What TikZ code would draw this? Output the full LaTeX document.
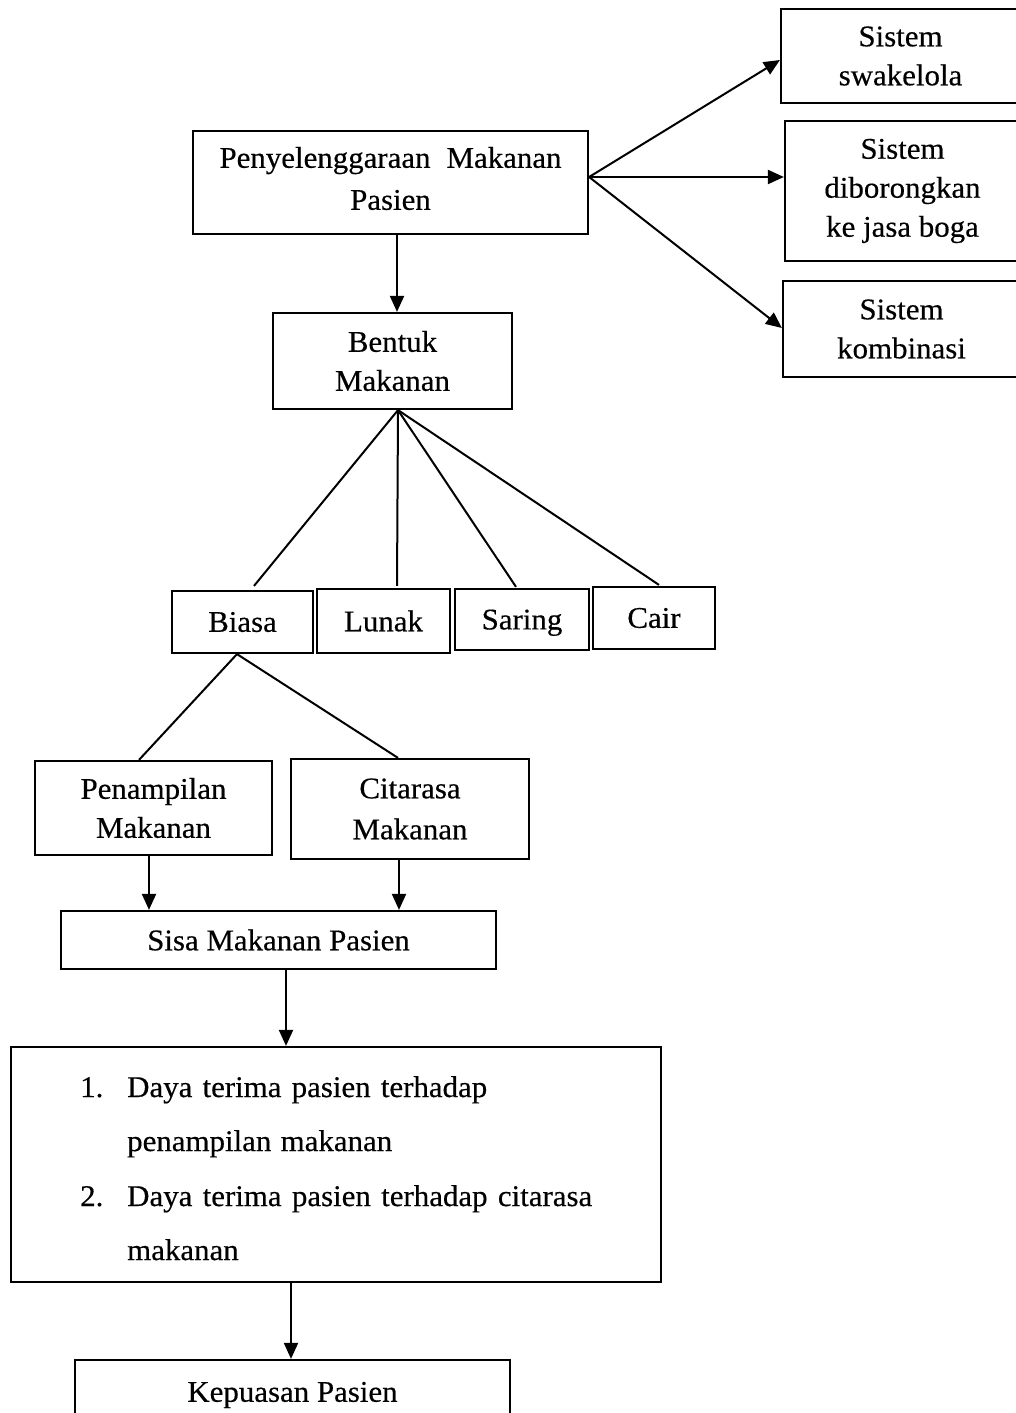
\documentclass[tikz,border=0pt]{standalone}
\usepackage{fontspec}
\setmainfont[FakeStretch=1.03,FakeBold=0.4]{Liberation Serif}
\usetikzlibrary{arrows.meta}
\begin{document}
\begin{tikzpicture}[x=1pt,y=-1pt,
  box/.style={draw,line width=2.2pt,inner sep=0pt,align=center,font=\fontsize{30}{39}\selectfont},
  conn/.style={line width=2pt},
  arr/.style={line width=2pt,-{Triangle[length=16pt,width=14pt]}},
  txt/.style={inner sep=0pt,anchor=base west,font=\fontsize{30}{36}\selectfont}]
\useasboundingbox (0,0) rectangle (1016,1413);
\fill[white] (0,0) rectangle (1016,1413);
\clip (0,0) rectangle (1016,1413);

% right column
\node[box,minimum width=239pt,minimum height=94pt] (swak) at (900.5,56) {Sistem\\swakelola};
\node[box,minimum width=235pt,minimum height=140pt] (dib) at (902.5,191) {Sistem\\diborongkan\\ke jasa boga};
\node[box,minimum width=237pt,minimum height=96pt] (komb) at (901.5,329) {Sistem\\kombinasi};

% main column
\node[box,minimum width=395pt,minimum height=103pt,font=\fontsize{30}{42}\selectfont] (peny) at (390.5,182.5)
  {\makebox[342pt][s]{Penyelenggaraan Makanan}\\Pasien\vspace{8pt}};
\node[box,minimum width=239pt,minimum height=96pt] (bentuk) at (392.5,361) {Bentuk\\Makanan};

\node[box,minimum width=141pt,minimum height=62pt] (biasa) at (242.5,622) {Biasa};
\node[box,minimum width=133pt,minimum height=64pt] (lunak) at (383.5,621) {Lunak};
\node[box,minimum width=134pt,minimum height=61pt,text depth=0pt] (saring) at (522,619.5) {Saring};
\node[box,minimum width=122pt,minimum height=62pt] (cair) at (654,618) {Cair};

\node[box,minimum width=237pt,minimum height=94pt] (pen) at (153.5,808) {Penampilan\\Makanan};
\node[box,minimum width=238pt,minimum height=100pt,font=\fontsize{30}{41}\selectfont] (cit) at (410,809) {Citarasa\\Makanan};

\node[box,minimum width=435pt,minimum height=58pt] (sisa) at (278.5,940) {Sisa Makanan Pasien};

\node[box,minimum width=650pt,minimum height=235pt] (list) at (336,1164.5) {};
\node[txt] (n1) at (80,1097) {1.};
\node[txt] (t1) at (127,1097) {\makebox[360pt][s]{Daya terima pasien terhadap}};
\node[txt] (t2) at (127,1151) {\makebox[265pt][s]{penampilan makanan}};
\node[txt] (n2) at (80,1206) {2.};
\node[txt] (t3) at (127,1206) {\makebox[465pt][s]{Daya terima pasien terhadap citarasa}};
\node[txt] (t4) at (127,1260) {makanan};

\node[box,minimum width=435pt,minimum height=70pt] (kep) at (292.5,1395) {Kepuasan Pasien};

% connectors
\coordinate (o) at ([yshift=5.5pt]peny.east);
\draw[arr] (o) -- ([yshift=-4pt]swak.west);
\draw[arr] (o) -- ([yshift=14pt]dib.west);
\draw[arr] (o) -- ([yshift=1pt]komb.west);

\draw[arr] ([xshift=6.5pt]peny.south) -- ([xshift=6.5pt]peny.south |- bentuk.north);

\coordinate (ap) at ([xshift=5.5pt]bentuk.south);
\draw[conn] (ap) -- ([xshift=11.5pt,yshift=4pt]biasa.north);
\draw[conn] (ap) -- ([xshift=13.5pt,yshift=2pt]lunak.north);
\draw[conn] (ap) -- ([xshift=-6pt,yshift=1pt]saring.north);
\draw[conn] (ap) -- ([xshift=5pt,yshift=1pt]cair.north);

\coordinate (bp) at ([xshift=-5.5pt]biasa.south);
\draw[conn] (bp) -- ([xshift=-14.5pt]pen.north);
\draw[conn] (bp) -- ([xshift=-12pt]cit.north);

\draw[arr] ([xshift=-4.5pt]pen.south) -- ([xshift=-4.5pt]pen.south |- sisa.north);
\draw[arr] ([xshift=-11pt]cit.south) -- ([xshift=-11pt]cit.south |- sisa.north);

\draw[arr] ([xshift=7.5pt]sisa.south) -- ([xshift=7.5pt]sisa.south |- list.north);
\draw[arr] ([xshift=-45pt]list.south) -- ([xshift=-45pt]list.south |- kep.north);
\end{tikzpicture}
\end{document}
